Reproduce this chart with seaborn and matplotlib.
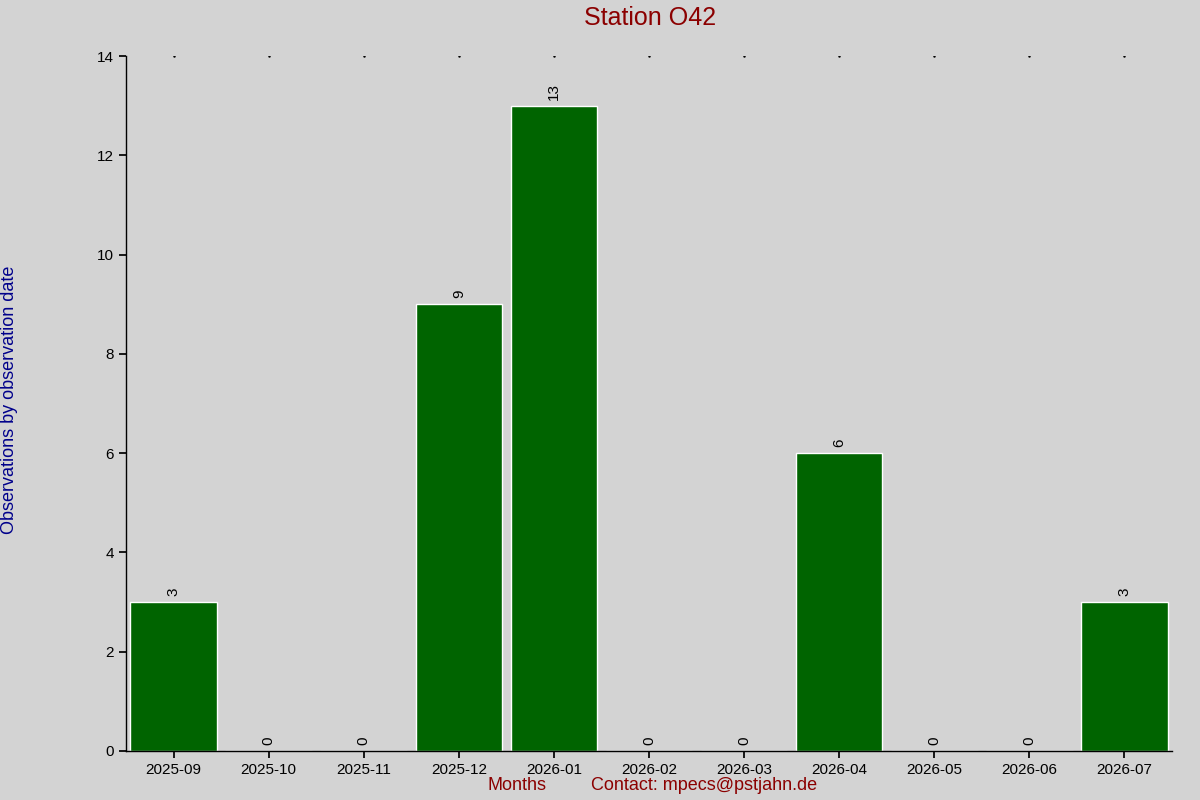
import matplotlib
matplotlib.use("Agg")
import matplotlib.pyplot as plt
import seaborn as sns
import pandas as pd

months = ["2025-09","2025-10","2025-11","2025-12","2026-01","2026-02","2026-03","2026-04","2026-05","2026-06","2026-07"]
counts = [3,0,0,9,13,0,0,6,0,0,3]

sns.set_theme(style="white")
plt.rcParams['font.family'] = ['Liberation Sans', 'DejaVu Sans']
bg = "#d3d3d3"
fig = plt.figure(figsize=(12, 8), dpi=100, facecolor=bg)
ax = fig.add_axes([126/1200, 1-751/800, (1172-126)/1200, (751-56)/800])
ax.set_facecolor(bg)
df = pd.DataFrame({"m": months, "c": counts})
sns.barplot(data=df, x="m", y="c", color="#006400", saturation=1, width=0.91, ax=ax)
for i, v in enumerate(counts):
    ax.text(i, v + 0.12, str(v), rotation=90, ha="center", va="bottom", fontsize=11, color="black")
    ax.plot(i, 14, marker=".", markersize=1.5, color="black")
ax.set_xlim(-0.5, 10.5)
ax.set_ylim(0, 14)
ax.set_yticks(range(0, 15, 2))
for s in ["top", "right"]:
    ax.spines[s].set_visible(False)
for s in ["left", "bottom"]:
    ax.spines[s].set_color("black")
    ax.spines[s].set_linewidth(1)
ax.tick_params(axis="y", left=True, length=5, color="black", labelsize=11, labelcolor="black")
ax.tick_params(axis="x", bottom=True, length=5, color="black", labelsize=11, labelcolor="black")
ax.set_xlabel("")
ax.set_ylabel("")
fig.text(0.5417, 1-18/800, "Station O42", ha="center", va="center", fontsize=18, color="#8b0000")
fig.text(10/1200, 0.5, "Observations by observation date", rotation=90, ha="center", va="center", fontsize=13, color="#00008b")
fig.text(517/1200, 1-786/800, "Months", ha="center", va="center", fontsize=13, color="#8b0000")
fig.text(704/1200, 1-786/800, "Contact: mpecs@pstjahn.de", ha="center", va="center", fontsize=13, color="#8b0000")
fig.savefig("out.png", dpi=100, facecolor=bg)
